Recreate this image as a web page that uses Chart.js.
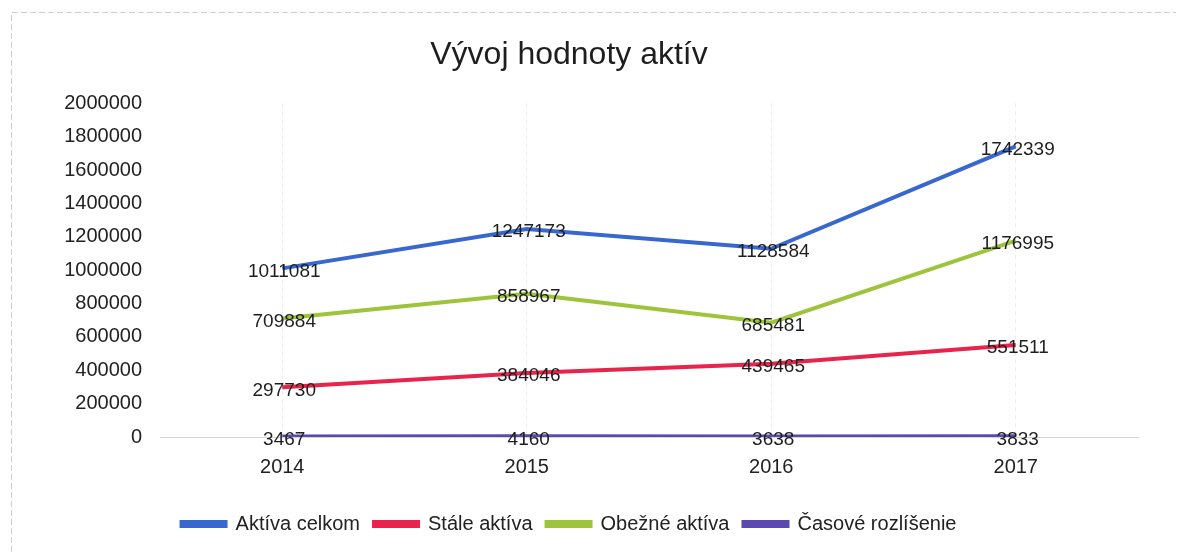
<!DOCTYPE html>
<html>
<head>
<meta charset="utf-8">
<script src="https://cdn.jsdelivr.net/npm/chart.js@4/dist/chart.umd.min.js"></script>
<style>
  html, body { margin: 0; padding: 0; background: #fff; }
  #wrap { width: 1189px; height: 552px; position: relative; }
</style>
</head>
<body>
<div id="wrap"><canvas id="chart" width="1189" height="552"></canvas></div>
<script>
var years = ['2014', '2015', '2016', '2017'];
var aktivaCelkom = [1011081, 1247173, 1128584, 1742339];
var staleAktiva = [297730, 384046, 439465, 551511];
var obezneAktiva = [709884, 858967, 685481, 1176995];
var casoveRozlisenie = [3467, 4160, 3638, 3833];

var FONT = "'Liberation Sans', Arial, sans-serif";

// frame of the scanned chart (top + left edge)
var framePlugin = {
  id: 'frame',
  beforeDraw: function(chart) {
    var ctx = chart.ctx;
    ctx.save();
    ctx.strokeStyle = '#cfcfcf';
    ctx.lineWidth = 1;
    ctx.setLineDash([6, 3]);
    ctx.beginPath();
    ctx.moveTo(11.5, 552);
    ctx.lineTo(11.5, 12.5);
    ctx.lineTo(1176, 12.5);
    ctx.stroke();
    ctx.restore();
  }
};

// value labels centred on each point, like Excel
var valueLabels = {
  id: 'valueLabels',
  afterDatasetsDraw: function(chart) {
    var ctx = chart.ctx;
    ctx.save();
    ctx.font = '19px ' + FONT;
    ctx.fillStyle = '#1e1e1e';
    ctx.textAlign = 'center';
    ctx.textBaseline = 'middle';
    chart.data.datasets.forEach(function(ds, i) {
      var meta = chart.getDatasetMeta(i);
      meta.data.forEach(function(pt, j) {
        ctx.fillText(String(ds.data[j]), pt.x + 2, pt.y + 3);
      });
    });
    ctx.restore();
  }
};

var mk = function(label, data, color) {
  return {
    label: label,
    data: data,
    borderColor: color,
    backgroundColor: color,
    borderWidth: 4,
    pointRadius: 0,
    tension: 0,
    fill: false
  };
};

new Chart(document.getElementById('chart'), {
  type: 'line',
  data: {
    labels: years,
    datasets: [
      mk('Aktíva celkom', aktivaCelkom, '#3867d0'),
      mk('Stále aktíva', staleAktiva, '#e8234c'),
      mk('Obežné aktíva', obezneAktiva, '#9dc43a'),
      mk('Časové rozlíšenie', casoveRozlisenie, '#5b48b0')
    ]
  },
  options: {
    responsive: false,
    animation: false,
    devicePixelRatio: 1,
    layout: { padding: { left: 0, right: 51, top: 0, bottom: 8 } },
    plugins: {
      title: {
        display: true,
        text: 'Vývoj hodnoty aktív',
        color: '#1e1e1e',
        font: { family: FONT, size: 32, weight: 'normal' },
        padding: { top: 36, bottom: 29 }
      },
      legend: {
        position: 'bottom',
        labels: {
          boxWidth: 44,
          boxHeight: 4,
          padding: 14,
          color: '#222',
          font: { family: FONT, size: 20 }
        }
      },
      tooltip: { enabled: false }
    },
    scales: {
      x: {
        offset: true,
        grid: { display: true, offset: false, drawTicks: false, color: '#ececec', tickBorderDash: [3, 3] },
        border: { display: true, color: '#d4d4d4', dash: [4, 4] },
        ticks: { color: '#222', padding: 18, font: { family: FONT, size: 20 } },
        afterFit: function(scale) { scale.height = 63; }
      },
      y: {
        min: 0,
        max: 2000000,
        ticks: {
          stepSize: 200000, color: '#222', padding: 18, font: { family: FONT, size: 20 },
          callback: function(v) { return String(v); }
        },
        grid: { display: false, drawTicks: false },
        border: { display: false },
        afterFit: function(scale) { scale.width = 160; }
      }
    }
  },
  plugins: [framePlugin, valueLabels]
});
</script>
</body>
</html>
